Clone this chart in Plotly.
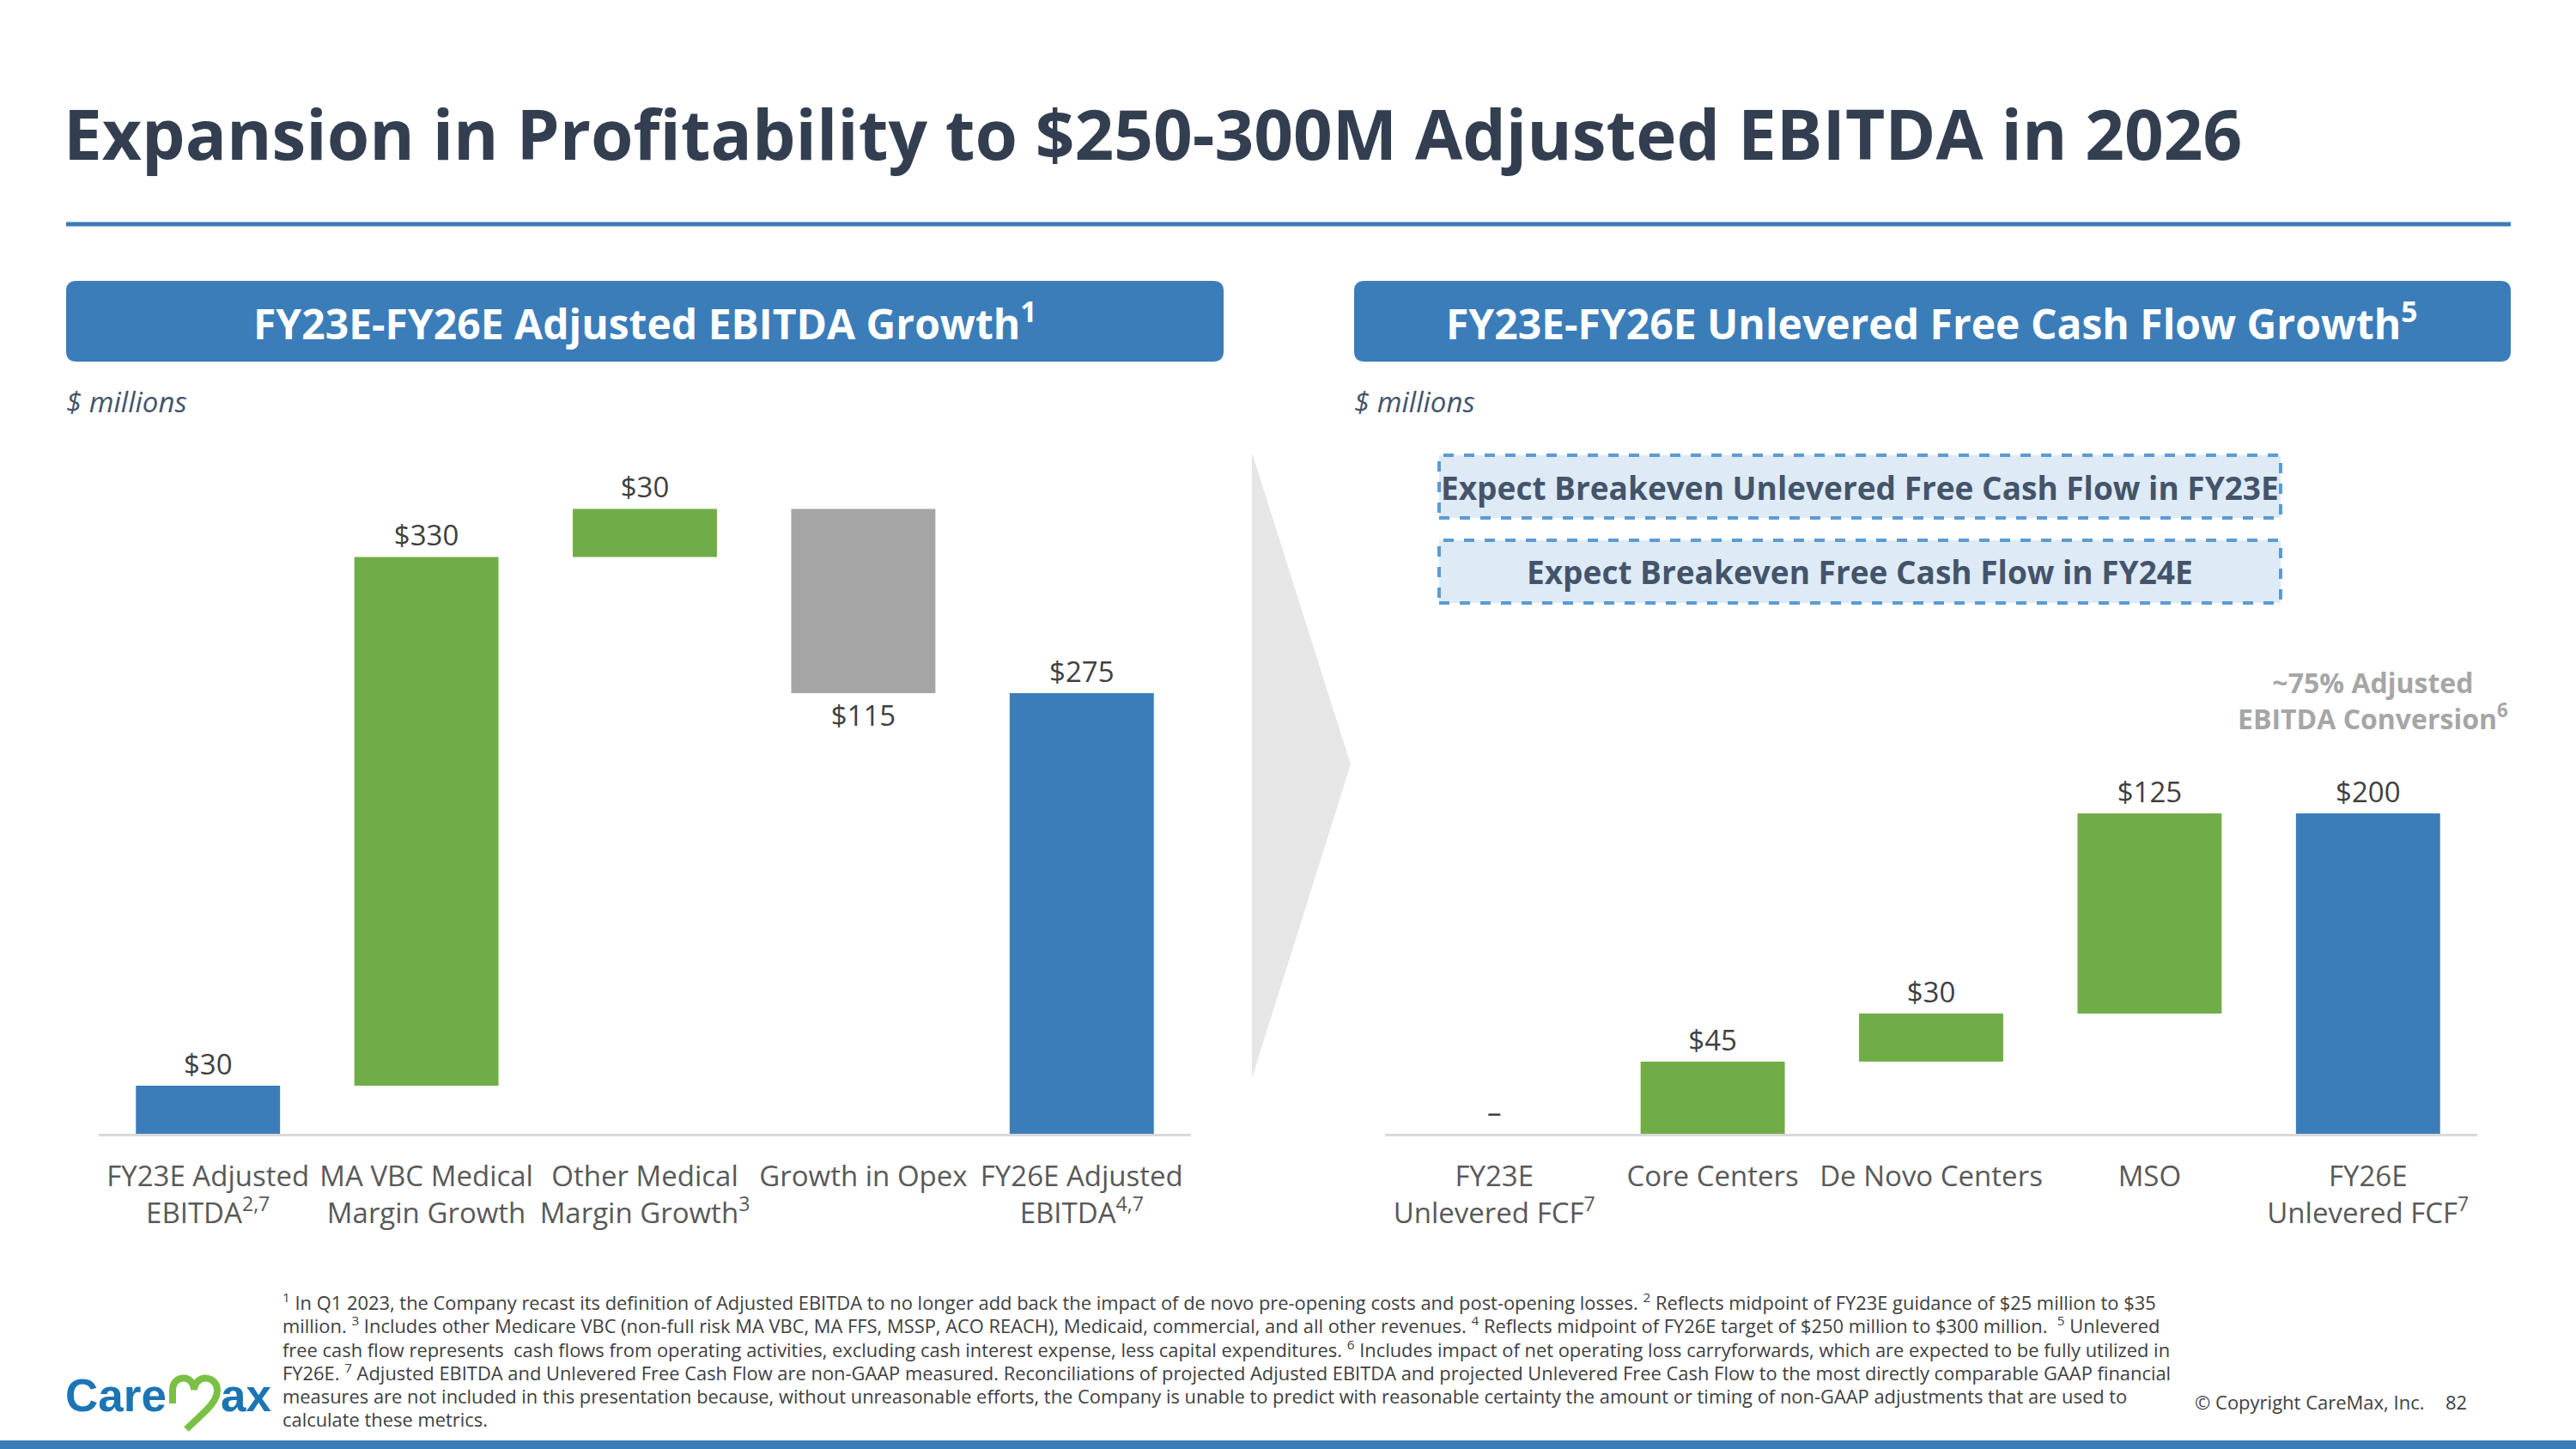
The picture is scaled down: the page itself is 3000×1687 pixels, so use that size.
import plotly.graph_objects as go

W, H = 3000, 1687
FONT = "Open Sans"

# ---------------- data ----------------
left_categories = ["FY23E Adjusted EBITDA", "MA VBC Medical Margin Growth",
                   "Other Medical Margin Growth", "Growth in Opex", "FY26E Adjusted EBITDA"]
left_tick_labels = ["FY23E Adjusted<br>EBITDA<sup>2,7</sup>", "MA VBC Medical<br>Margin Growth",
                    "Other Medical<br>Margin Growth<sup>3</sup>", "Growth in Opex",
                    "FY26E Adjusted<br>EBITDA<sup>4,7</sup>"]
left_values = [30, 330, 30, -115, 275]
left_measures = ["absolute", "relative", "relative", "relative", "total"]
left_labels = ["$30", "$330", "$30", "$115", "$275"]

right_categories = ["FY23E Unlevered FCF", "Core Centers", "De Novo Centers", "MSO",
                    "FY26E Unlevered FCF"]
right_tick_labels = ["FY23E<br>Unlevered FCF<sup>7</sup>", "Core Centers", "De Novo Centers",
                     "MSO", "FY26E<br>Unlevered FCF<sup>7</sup>"]
right_values = [0, 45, 30, 125, 200]
right_measures = ["absolute", "relative", "relative", "relative", "total"]
right_labels = ["–", "$45", "$30", "$125", "$200"]

footnotes = [
    "<sup>1</sup> In Q1 2023, the Company recast its definition of Adjusted EBITDA to no longer add back the impact of de novo pre-opening costs and post-opening losses. <sup>2</sup> Reflects midpoint of FY23E guidance of $25 million to $35",
    "million. <sup>3</sup> Includes other Medicare VBC (non-full risk MA VBC, MA FFS, MSSP, ACO REACH), Medicaid, commercial, and all other revenues. <sup>4</sup> Reflects midpoint of FY26E target of $250 million to $300 million.  <sup>5</sup> Unlevered",
    "free cash flow represents  cash flows from operating activities, excluding cash interest expense, less capital expenditures. <sup>6</sup> Includes impact of net operating loss carryforwards, which are expected to be fully utilized in",
    "FY26E. <sup>7</sup> Adjusted EBITDA and Unlevered Free Cash Flow are non-GAAP measured. Reconciliations of projected Adjusted EBITDA and projected Unlevered Free Cash Flow to the most directly comparable GAAP financial",
    "measures are not included in this presentation because, without unreasonable efforts, the Company is unable to predict with reasonable certainty the amount or timing of non-GAAP adjustments that are used to",
    "calculate these metrics.",
]

# ---------------- colors ----------------
BLUE = "#3B7DB9"
GREEN = "#70AD47"
GREY = "#A5A5A5"
TITLE_C = "#333F50"
LABEL_C = "#404040"
TICK_C = "#595959"


def X(px):
    return px / W


def Y(py):
    return 1 - py / H


def P(px, py):
    return f"{X(px):.5f},{Y(py):.5f}"


def rrect(x0, y0, x1, y1, r):
    return ("M " + P(x0 + r, y0) + " L " + P(x1 - r, y0) + " Q " + P(x1, y0) + " " + P(x1, y0 + r)
            + " L " + P(x1, y1 - r) + " Q " + P(x1, y1) + " " + P(x1 - r, y1)
            + " L " + P(x0 + r, y1) + " Q " + P(x0, y1) + " " + P(x0, y1 - r)
            + " L " + P(x0, y0 + r) + " Q " + P(x0, y0) + " " + P(x0 + r, y0) + " Z")


fig = go.Figure()

common = dict(
    textposition="outside",
    textfont=dict(family=FONT, size=33, color=LABEL_C),
    connector=dict(visible=False),
    increasing=dict(marker=dict(color=GREEN)),
    decreasing=dict(marker=dict(color=GREY)),
    totals=dict(marker=dict(color=BLUE)),
    cliponaxis=False,
    showlegend=False,
    hoverinfo="skip",
)

fig.add_trace(go.Waterfall(x=left_categories, y=left_values, measure=left_measures,
                           text=left_labels, xaxis="x", yaxis="y", **common))
fig.add_trace(go.Waterfall(x=right_categories, y=right_values, measure=right_measures,
                           text=right_labels, xaxis="x2", yaxis="y2", **common))

PLOT_TOP, PLOT_BOT = 520, 1320
SCALE = 1.8655  # px per $M
YMAX = (PLOT_BOT - PLOT_TOP) / SCALE

xcommon = dict(showline=True, linecolor="#D9D9D9", linewidth=3, showgrid=False, zeroline=False,
               ticks="", tickfont=dict(family=FONT, size=33, color=TICK_C), range=[-0.5, 4.5],
               tickangle=0, automargin=False, ticklabelstandoff=18, fixedrange=True)
ycommon = dict(visible=False, range=[0, YMAX], domain=[Y(PLOT_BOT), Y(PLOT_TOP)], fixedrange=True,
               automargin=False)

fig.update_layout(
    width=W, height=H,
    margin=dict(l=0, r=0, t=0, b=0),
    paper_bgcolor="white", plot_bgcolor="rgba(0,0,0,0)",
    waterfallgap=0.34,
    xaxis=dict(domain=[X(115), X(1387)], anchor="y", tickvals=left_categories,
               ticktext=left_tick_labels, **xcommon),
    yaxis=dict(anchor="x", **ycommon),
    xaxis2=dict(domain=[X(1613), X(2885)], anchor="y2", tickvals=right_categories,
                ticktext=right_tick_labels, **xcommon),
    yaxis2=dict(anchor="x2", **ycommon),
)

shapes = []
# title rule
shapes.append(dict(type="line", xref="paper", yref="paper", x0=X(77), x1=X(2924), y0=Y(261), y1=Y(261),
                   line=dict(color=BLUE, width=5)))
# header boxes
shapes.append(dict(type="path", xref="paper", yref="paper", path=rrect(77, 327, 1425, 421, 12),
                   fillcolor=BLUE, line=dict(width=0)))
shapes.append(dict(type="path", xref="paper", yref="paper", path=rrect(1577, 327, 2924, 421, 12),
                   fillcolor=BLUE, line=dict(width=0)))
# chevron
shapes.append(dict(type="path", xref="paper", yref="paper",
                   path="M " + P(1458, 527) + " L " + P(1573, 890) + " L " + P(1458, 1255) + " Z",
                   fillcolor="#E6E6E6", line=dict(width=0), layer="below"))
# dashed boxes
for y0, y1 in [(530, 603), (629, 702)]:
    shapes.append(dict(type="rect", xref="paper", yref="paper", x0=X(1676), x1=X(2656), y0=Y(y1), y1=Y(y0),
                       fillcolor="#DEEBF7", line=dict(color="#5B9BD5", width=4, dash="dash")))
# heart-M of logo
heart = ("M " + P(201, 1634) + " L " + P(201, 1618) + " C " + P(201, 1601) + " " + P(225, 1599) + " " + P(226, 1618)
         + " C " + P(228, 1599) + " " + P(253, 1601) + " " + P(253, 1619)
         + " C " + P(253, 1634) + " " + P(234, 1647) + " " + P(217, 1664))
shapes.append(dict(type="path", xref="paper", yref="paper", path=heart,
                   line=dict(color="#7AC143", width=8)))
# bottom band
shapes.append(dict(type="rect", xref="paper", yref="paper", x0=0, x1=1, y0=0, y1=Y(1677),
                   fillcolor=BLUE, line=dict(width=0)))

ann = []


def add(text, x, y, size, color, xanchor="left", bold=False, italic=False, family=FONT):
    ann.append(dict(text=text, x=X(x), y=Y(y), xref="paper", yref="paper", xanchor=xanchor,
                    yanchor="middle", showarrow=False,
                    font=dict(family=family, size=size, color=color,
                              weight="bold" if bold else "normal",
                              style="italic" if italic else "normal"),
                    align="center" if xanchor == "center" else "left"))


add("Expansion in Profitability to $250-300M Adjusted EBITDA in 2026", 72, 154, 80, TITLE_C, bold=True)
add("FY23E-FY26E Adjusted EBITDA Growth<sup>1</sup>", 751, 374, 48, "white", "center", bold=True)
add("FY23E-FY26E Unlevered Free Cash Flow Growth<sup>5</sup>", 2250, 374, 48, "white", "center", bold=True)
add("$ millions", 75, 467, 33, "#44546A", italic=True)
add("$ millions", 1575, 467, 33, "#44546A", italic=True)
add("Expect Breakeven Unlevered Free Cash Flow in FY23E", 2166, 567, 37, "#44546A", "center", bold=True)
add("Expect Breakeven Free Cash Flow in FY24E", 2166, 666, 37, "#44546A", "center", bold=True)
add("~75% Adjusted<br>EBITDA Conversion<sup>6</sup>", 2763, 815, 32, "#A6A6A6", "center", bold=True)

for i, line in enumerate(footnotes):
    add(line, 327, 1515 + 27.5 * i, 21.9, LABEL_C)

add("© Copyright CareMax, Inc.", 2554, 1632, 22, LABEL_C)
add("82", 2860, 1632, 22, LABEL_C, "center")
# logo text
add("<b>Care</b>", 196, 1624, 53, "#1B75B5", "right", family="Liberation Sans")
add("<b>ax</b>", 255, 1624, 53, "#1B75B5", "left", family="Liberation Sans")

fig.update_layout(shapes=shapes, annotations=ann)

fig.write_html("out.html")
